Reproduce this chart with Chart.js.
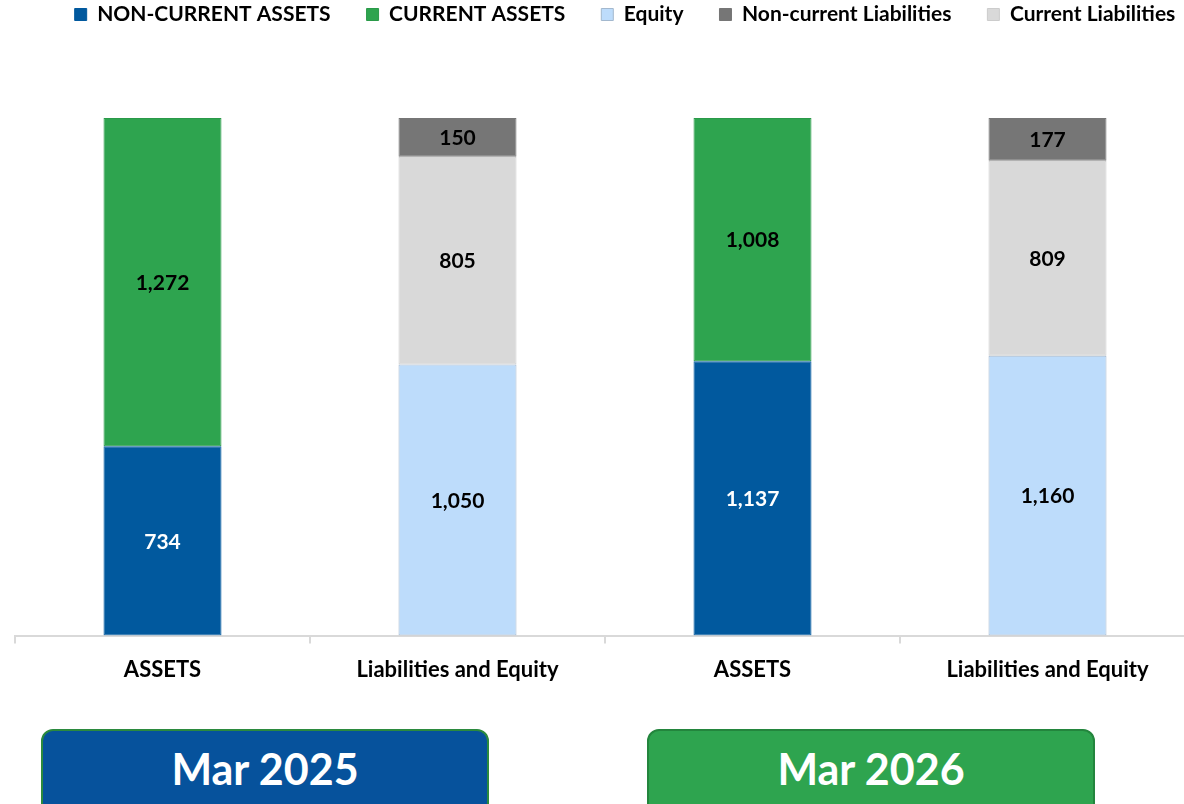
<!DOCTYPE html>
<html>
<head>
<meta charset="utf-8">
<script src="https://cdn.jsdelivr.net/npm/chart.js@4.4.1/dist/chart.umd.min.js"></script>
<style>
  html, body { margin: 0; padding: 0; background: #fff; overflow: hidden; }
  #wrap { position: relative; width: 1184px; height: 804px; overflow: hidden; }
  #chartBox { position: absolute; left: 0; top: -32px; width: 1200px; height: 728px; }
  .period {
    position: absolute; top: 729px; width: 448px; height: 90px;
    border-radius: 12px; border: 2px solid; box-sizing: border-box;
    color: #fff; font: bold 43px Lato, sans-serif;
    text-align: center; line-height: 76px;
  }
</style>
</head>
<body>
<div id="wrap">
  <div id="chartBox"><canvas id="chart" width="1200" height="728"></canvas></div>
  <div class="period" style="left:41px; background:#06529c; border-color:#2b8a3e;">Mar 2025</div>
  <div class="period" style="left:647px; background:#2ea44f; border-color:#23853d;">Mar 2026</div>
</div>
<script>
// categories (two periods, two bars each)
const categories = ['ASSETS', 'Liabilities and Equity', 'ASSETS', 'Liabilities and Equity'];

// values in stacking order, bottom to top
const nonCurrentAssets = [734, null, 1137, null];
const currentAssets = [1272, null, 1008, null];
const equity = [null, 1050, null, 1160];
const currentLiabilities = [null, 805, null, 809];
const nonCurrentLiabilities = [null, 150, null, 177];

const legendOrder = ['NON-CURRENT ASSETS', 'CURRENT ASSETS', 'Equity', 'Non-current Liabilities', 'Current Liabilities'];

const FONT = 'Lato, "Open Sans", sans-serif';

// 100% stacked: share of each column total
const seriesList = [nonCurrentAssets, currentAssets, equity, currentLiabilities, nonCurrentLiabilities];
const totals = categories.map((c, i) => seriesList.reduce((s, arr) => s + (arr[i] || 0), 0));
function toPct(arr) {
  return arr.map((v, i) => v == null ? null : v / totals[i] * 100);
}

function makeSet(label, values, fill, border, textColor) {
  return {
    label: label,
    data: toPct(values),
    rawValues: values,
    labelColor: textColor,
    backgroundColor: fill,
    borderColor: border,
    borderWidth: 1,
    borderSkipped: false,
    barPercentage: 0.4,
    categoryPercentage: 1.0
  };
}

const datasets = [
  makeSet('NON-CURRENT ASSETS', nonCurrentAssets, '#01599e', '#01599e', '#ffffff'),
  makeSet('CURRENT ASSETS', currentAssets, '#2ea44f', '#2a9a49', '#000000'),
  makeSet('Equity', equity, '#bddcfb', '#a3b8ce', '#000000'),
  makeSet('Current Liabilities', currentLiabilities, '#d9d9d9', '#cccccc', '#000000'),
  makeSet('Non-current Liabilities', nonCurrentLiabilities, '#767676', '#767676', '#000000')
];

// draws the raw value in the middle of each segment
const valueLabels = {
  id: 'valueLabels',
  afterDatasetsDraw(chart) {
    const ctx = chart.ctx;
    ctx.save();
    ctx.font = 'bold 21px ' + FONT;
    ctx.textAlign = 'center';
    ctx.textBaseline = 'middle';
    chart.data.datasets.forEach((ds, di) => {
      const meta = chart.getDatasetMeta(di);
      meta.data.forEach((bar, i) => {
        const v = ds.rawValues[i];
        if (v == null) return;
        ctx.fillStyle = ds.labelColor;
        ctx.fillText(v.toLocaleString('en-US'), bar.x, (bar.y + bar.base) / 2 + 1);
      });
    });
    ctx.restore();
  }
};

// extra room between the legend and the bars, legend nudged right
const legendGap = {
  id: 'legendGap',
  beforeInit(chart) {
    const legend = chart.legend;
    const fit = legend.fit;
    legend.fit = function () {
      fit.bind(legend)();
      this.height += 83;
    };
    const draw = legend.draw;
    legend.draw = function () {
      const ctx = chart.ctx;
      ctx.save();
      ctx.translate(20, 0);
      draw.apply(legend, arguments);
      ctx.restore();
    };
  }
};

new Chart(document.getElementById('chart'), {
  type: 'bar',
  data: {
    labels: categories,
    datasets: datasets
  },
  options: {
    responsive: false,
    animation: false,
    layout: {
      padding: { left: 15, right: 5, top: 0, bottom: 0 }
    },
    scales: {
      x: {
        stacked: true,
        offset: true,
        grid: {
          display: true,
          offset: true,
          drawOnChartArea: false,
          tickLength: 8,
          color: '#d9d9d9',
          lineWidth: 2
        },
        border: { color: '#d9d9d9', width: 2 },
        ticks: {
          color: '#000',
          padding: 13,
          font: { family: FONT, size: 22, weight: 'bold' }
        }
      },
      y: {
        stacked: true,
        display: false,
        min: 0,
        max: 100
      }
    },
    plugins: {
      legend: {
        position: 'top',
        labels: {
          boxWidth: 12,
          boxHeight: 12,
          padding: 36,
          color: '#000',
          font: { family: FONT, size: 21, weight: 'bold' },
          sort: (a, b) => legendOrder.indexOf(a.text) - legendOrder.indexOf(b.text)
        }
      },
      tooltip: { enabled: false }
    }
  },
  plugins: [valueLabels, legendGap]
});
</script>
</body>
</html>
